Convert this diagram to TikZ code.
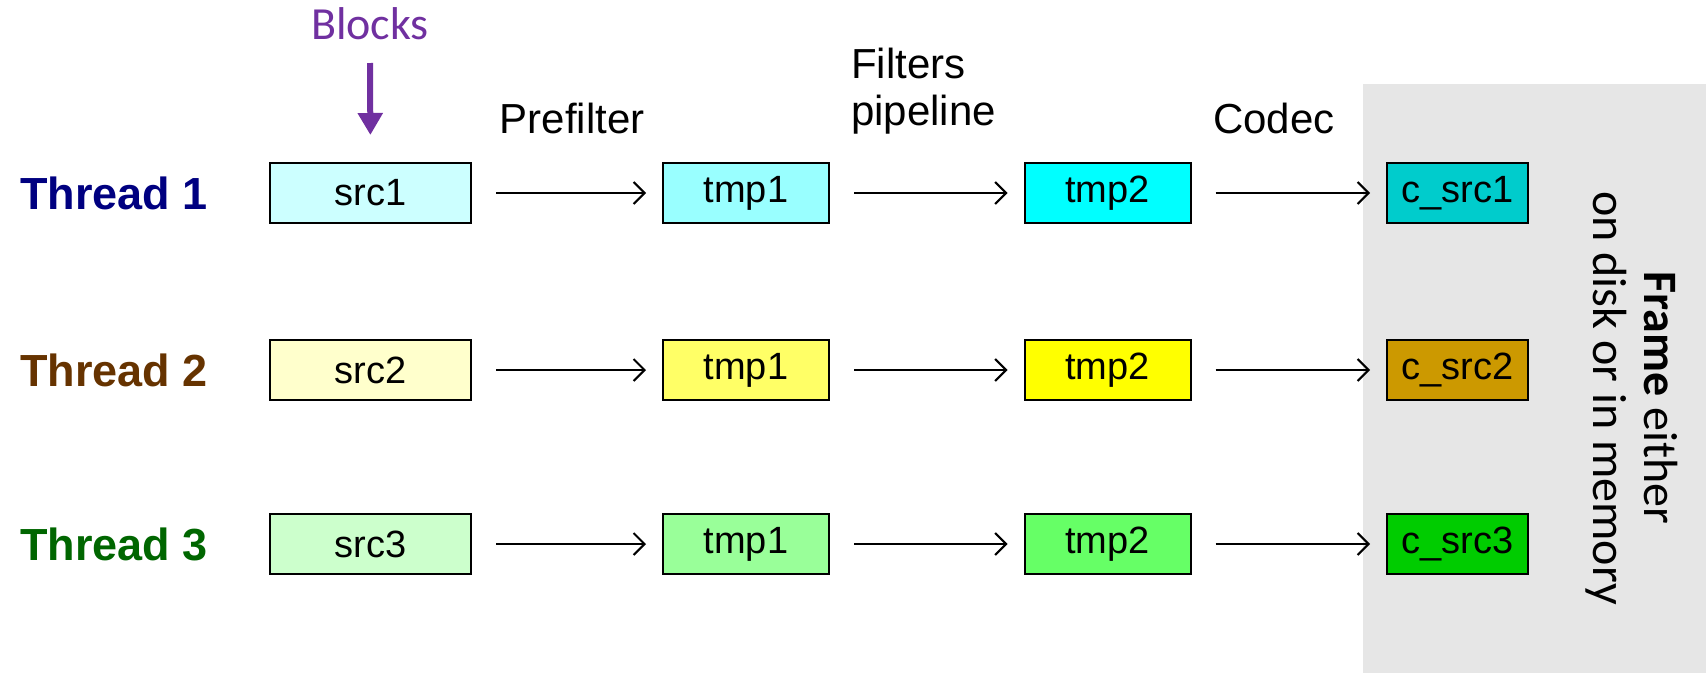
\documentclass[tikz,border=0pt]{standalone}
\usepackage{fontspec}
\setmainfont{Liberation Sans}
\newfontfamily\carlito{Carlito}
\usetikzlibrary{arrows.meta}
\definecolor{framegray}{HTML}{E6E6E6}
\definecolor{blockpurple}{HTML}{7030A0}
\definecolor{thA}{HTML}{000080}
\definecolor{thB}{HTML}{663300}
\definecolor{thC}{HTML}{006600}
\definecolor{sA}{HTML}{CCFFFF}\definecolor{tA}{HTML}{99FFFF}\definecolor{uA}{HTML}{00FFFF}\definecolor{cA}{HTML}{00CCCC}
\definecolor{sB}{HTML}{FFFFCC}\definecolor{tB}{HTML}{FFFF66}\definecolor{uB}{HTML}{FFFF00}\definecolor{cB}{HTML}{CC9900}
\definecolor{sC}{HTML}{CCFFCC}\definecolor{tC}{HTML}{99FF99}\definecolor{uC}{HTML}{66FF66}\definecolor{cC}{HTML}{00CC00}
\tikzset{
  blk/.style={draw=black, line width=2pt, minimum height=60pt, inner sep=0pt,
    font=\fontsize{38}{42}\selectfont},
  srcbox/.style={blk, minimum width=201pt},
  tmpbox/.style={blk, minimum width=166pt},
  cbox/.style={blk, minimum width=141pt},
  thlabel/.style={anchor=west, inner sep=0pt, font=\bfseries\fontsize{45}{50}\selectfont},
  steplabel/.style={inner sep=0pt, font=\fontsize{42}{47}\selectfont},
  flow/.style={line width=2pt, -{Straight Barb[length=11pt,width=22pt,line width=2pt]},
    shorten <=24pt, shorten >=16pt},
  parrow/.style={draw=blockpurple, line width=6pt, -{Triangle[length=22pt,width=24pt]}}
}
\begin{document}
\begin{tikzpicture}[x=1pt,y=-1pt]
\useasboundingbox (0,0) rectangle (1706,673);
\fill[framegray] (1363,84) rectangle (1706,673);

\node[text=blockpurple, inner sep=0pt, font=\carlito\fontsize{46}{50}\selectfont] (blocks) at (370,24) {Blocks};
\coordinate (bstart) at (370,63);

\node[steplabel] (pre) at (572,118) {Prefilter};
\node[steplabel, anchor=west, align=left] (filt) at (851,91) {Filters\\pipeline};
\node[steplabel, anchor=west] (codec) at (1213,118) {Codec};

\foreach \r/\y/\tc/\s/\t/\u/\c in {1/193/thA/sA/tA/uA/cA, 2/370/thB/sB/tB/uB/cB, 3/544/thC/sC/tC/uC/cC}{
  \node[thlabel, text=\tc] (th\r) at (20,\y) {Thread \r};
  \node[srcbox, fill=\s] (s\r) at (370.5,\y) {src\r};
  \node[tmpbox, fill=\t] (t\r) at (746,\y) {tmp1};
  \node[tmpbox, fill=\u] (u\r) at (1107.5,\y) {tmp2};
  \node[cbox, fill=\c] (c\r) at (1457.5,\y) {c\_src\r};
  \draw[flow] (s\r.east) -- (t\r.west);
  \draw[flow] (t\r.east) -- (u\r.west);
  \draw[flow] (u\r.east) -- (c\r.west);
}

\draw[parrow, shorten >=27pt] (bstart) -- (s1.north);

\node[rotate=-90, align=center, inner sep=0pt, font=\carlito\fontsize{48}{51}\selectfont] (frame) at (1632,398)
  {\textbf{Frame} either\\on disk or in memory};
\end{tikzpicture}
\end{document}
